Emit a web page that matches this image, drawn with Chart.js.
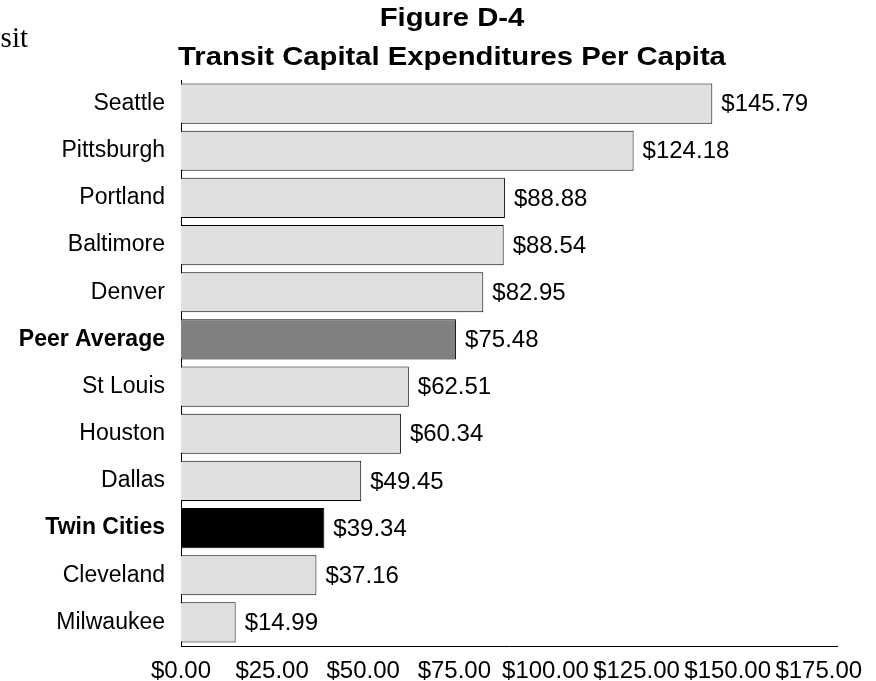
<!DOCTYPE html>
<html>
<head>
<meta charset="utf-8">
<script src="https://cdn.jsdelivr.net/npm/chart.js"></script>
<style>
    html, body { margin: 0; padding: 0; background: #fff; }
    #wrap { width: 876px; height: 681px; position: relative; }
</style>
</head>
<body>
<div id="wrap"><canvas id="capChart" width="876" height="681"></canvas></div>
<script>
    const categories = ['Seattle', 'Pittsburgh', 'Portland', 'Baltimore', 'Denver', 'Peer Average',
                        'St Louis', 'Houston', 'Dallas', 'Twin Cities', 'Cleveland', 'Milwaukee'];
    const perCapita = [145.79, 124.18, 88.88, 88.54, 82.95, 75.48, 62.51, 60.34, 49.45, 39.34, 37.16, 14.99];
    const boldLabels = ['Peer Average', 'Twin Cities'];
    const xTickValues = [0, 25, 50, 75, 100, 125, 150, 175];
    const xAxisEnd = 180;    // axis line runs a little past the last tick
    const titleLines = ['Figure D-4', 'Transit Capital Expenditures Per Capita'];

    const FONT = 'Arial, "Liberation Sans", sans-serif';

    function barColor(name) {
        if (name === 'Peer Average') return '#808080';
        if (name === 'Twin Cities') return '#000000';
        return '#e0e0e0';
    }

    function money(v) {
        return '$' + Number(v).toFixed(2);
    }

    // title, the stray "Transit" word cut at the page edge, white background
    const pageText = {
        id: 'pageText',
        beforeDraw(chart) {
            const ctx = chart.ctx;
            ctx.save();
            ctx.fillStyle = '#fff';
            ctx.fillRect(0, 0, chart.width, chart.height);
            ctx.restore();
        },
        afterDraw(chart) {
            const ctx = chart.ctx;
            ctx.save();
            ctx.fillStyle = '#000';
            ctx.font = '29px "Liberation Serif", "Times New Roman", serif';
            ctx.textAlign = 'right';
            ctx.textBaseline = 'alphabetic';
            ctx.fillText('Transit', 28, 47);

            ctx.font = 'bold 25px ' + FONT;
            ctx.textAlign = 'center';
            const baselines = [26, 65];
            titleLines.forEach((line, i) => {
                ctx.save();
                ctx.translate(452, baselines[i]);
                ctx.scale(1.17, 1);
                ctx.fillText(line, 0, 0);
                ctx.restore();
            });
            ctx.restore();
        }
    };

    // dollar labels at bar ends
    const barValues = {
        id: 'barValues',
        afterDatasetsDraw(chart) {
            const ctx = chart.ctx;
            const meta = chart.getDatasetMeta(0);
            ctx.save();
            ctx.fillStyle = '#000';
            ctx.font = '24px ' + FONT;
            ctx.textAlign = 'left';
            ctx.textBaseline = 'middle';
            meta.data.forEach((bar, i) => {
                ctx.fillText(money(perCapita[i]), bar.x + 9, bar.y + 1);
            });
            ctx.restore();
        }
    };

    new Chart(document.getElementById('capChart'), {
        type: 'bar',
        data: {
            labels: categories,
            datasets: [{
                data: perCapita,
                backgroundColor: categories.map(barColor),
                borderColor: '#000',
                borderWidth: 1,
                borderSkipped: 'start',
                barPercentage: 0.85,
                categoryPercentage: 1.0
            }]
        },
        options: {
            indexAxis: 'y',
            responsive: false,
            animation: false,
            devicePixelRatio: 1,
            layout: { padding: { top: 80, right: 39, left: 0, bottom: 0 } },
            plugins: {
                legend: { display: false },
                title: { display: false },
                tooltip: { enabled: false }
            },
            scales: {
                x: {
                    type: 'linear',
                    min: xTickValues[0],
                    max: xAxisEnd,
                    grid: { display: false, drawTicks: false },
                    border: { display: true, color: '#000', width: 1 },
                    ticks: {
                        autoSkip: false,
                        maxRotation: 0,
                        padding: 11,
                        color: '#000',
                        font: { family: FONT, size: 24 },
                        callback: (v) => money(v)
                    },
                    afterBuildTicks(scale) {
                        scale.ticks = xTickValues.map(v => ({ value: v }));
                    },
                    afterFit(scale) { scale.height = 35; }
                },
                y: {
                    grid: { display: false, drawTicks: false },
                    border: { display: true, color: '#000', width: 1 },
                    ticks: {
                        padding: 16,
                        color: '#000',
                        autoSkip: false,
                        font: (c) => ({
                            family: FONT,
                            size: 23,
                            weight: boldLabels.includes(categories[c.index]) ? 'bold' : 'normal'
                        })
                    },
                    afterFit(scale) { scale.width = 181; }
                }
            }
        },
        plugins: [pageText, barValues]
    });
</script>
</body>
</html>
